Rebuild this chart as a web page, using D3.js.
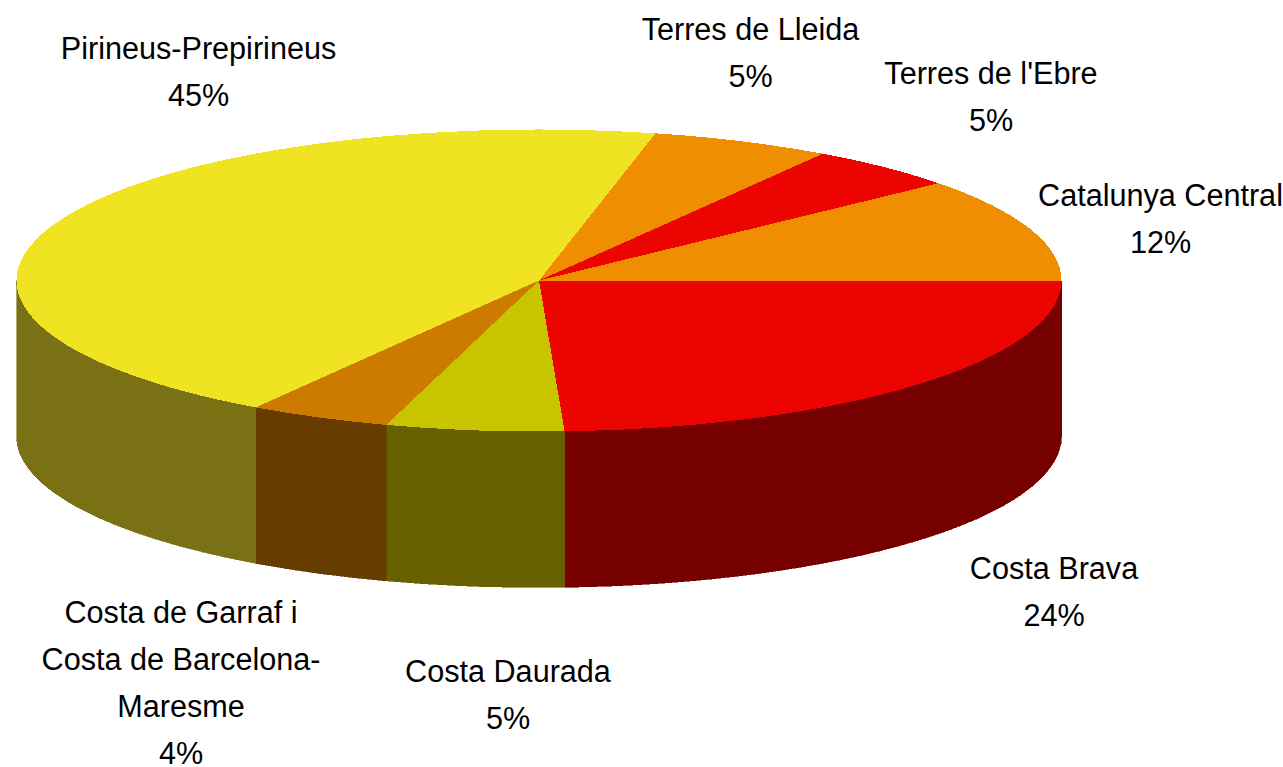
<!DOCTYPE html>
<html><head><meta charset="utf-8">
<style>html,body{margin:0;padding:0;background:#fff;overflow:hidden}svg{display:block}
text{font-family:"Liberation Sans",Arial,sans-serif;font-size:30.6px;fill:#000;text-anchor:middle}</style>
<script src="https://cdn.jsdelivr.net/npm/d3@7/dist/d3.min.js"></script>
</head><body><svg id="c" width="1283" height="767"></svg>
<script>
const categories=["Costa Brava","Costa Daurada","Costa de Garraf i Costa de Barcelona-Maresme","Pirineus-Prepirineus","Terres de Lleida","Terres de l'Ebre","Catalunya Central"];
const values=[24.22,5.5,4.4,44.46,5.56,4.72,11.14];
const percentLabels=["24%","5%","4%","45%","5%","5%","12%"];
const labelLines=[["Costa Brava"],["Costa Daurada"],["Costa de Garraf i","Costa de Barcelona-","Maresme"],["Pirineus-Prepirineus"],["Terres de Lleida"],["Terres de l'Ebre"],["Catalunya Central"]];
const topColors=["#ec0500","#c9c400","#cc7a00","#efe322","#ef8e00","#ec0500","#ef8e00"];
const wallColors=["#760000","#666000","#663c00","#7a7114","#7a4700","#760000","#7a4700"];

// layout
const cx=539,cy=280.5,rx=522.5,ry=151,depth=156;
const labelAnchor=[[1054,578.5],[508,681.5],[181,622.5],[198.5,59],[750.5,40],[991,84],[1160.5,205.5]];
const lineH=47;

const svg=d3.select("#c");
const pie=d3.pie().value(d=>d).sort(null).startAngle(Math.PI/2).endAngle(Math.PI/2+2*Math.PI);
const arcs=pie(values);
const X=d3.scaleLinear().domain([-1,1]).range([cx-rx,cx+rx]);
const Y=d3.scaleLinear().domain([-1,1]).range([cy-ry,cy+ry]);
const px=a=>X(Math.sin(a)), py=a=>Y(-Math.cos(a));

// side wall: only the front half of the cylinder is visible
svg.append("g").selectAll("path").data(arcs.filter(d=>d.startAngle<Math.PI*1.5)).join("path")
 .attr("shape-rendering","crispEdges")
 .attr("fill",d=>wallColors[d.index]).attr("stroke",d=>wallColors[d.index]).attr("stroke-width",.6)
 .attr("d",d=>{
   const a0=d.startAngle,a1=Math.min(d.endAngle,Math.PI*1.5);
   return `M${px(a0)},${py(a0)}A${rx},${ry} 0 0 1 ${px(a1)},${py(a1)}L${px(a1)},${py(a1)+depth}A${rx},${ry} 0 0 0 ${px(a0)},${py(a0)+depth}Z`;
 });

// top face
const arc=d3.arc().innerRadius(0).outerRadius(rx);
svg.append("g").attr("transform",`translate(${cx},${cy}) scale(1,${ry/rx})`)
 .selectAll("path").data(arcs).join("path")
 .attr("shape-rendering","crispEdges")
 .attr("fill",d=>topColors[d.index]).attr("d",arc);

// labels
const g=svg.append("g");
categories.forEach((c,i)=>{
  const lines=labelLines[i].concat([percentLabels[i]]);
  lines.forEach((t,j)=>{
    g.append("text").attr("x",labelAnchor[i][0]).attr("y",labelAnchor[i][1]+j*lineH).text(t);
  });
});
</script></body></html>
